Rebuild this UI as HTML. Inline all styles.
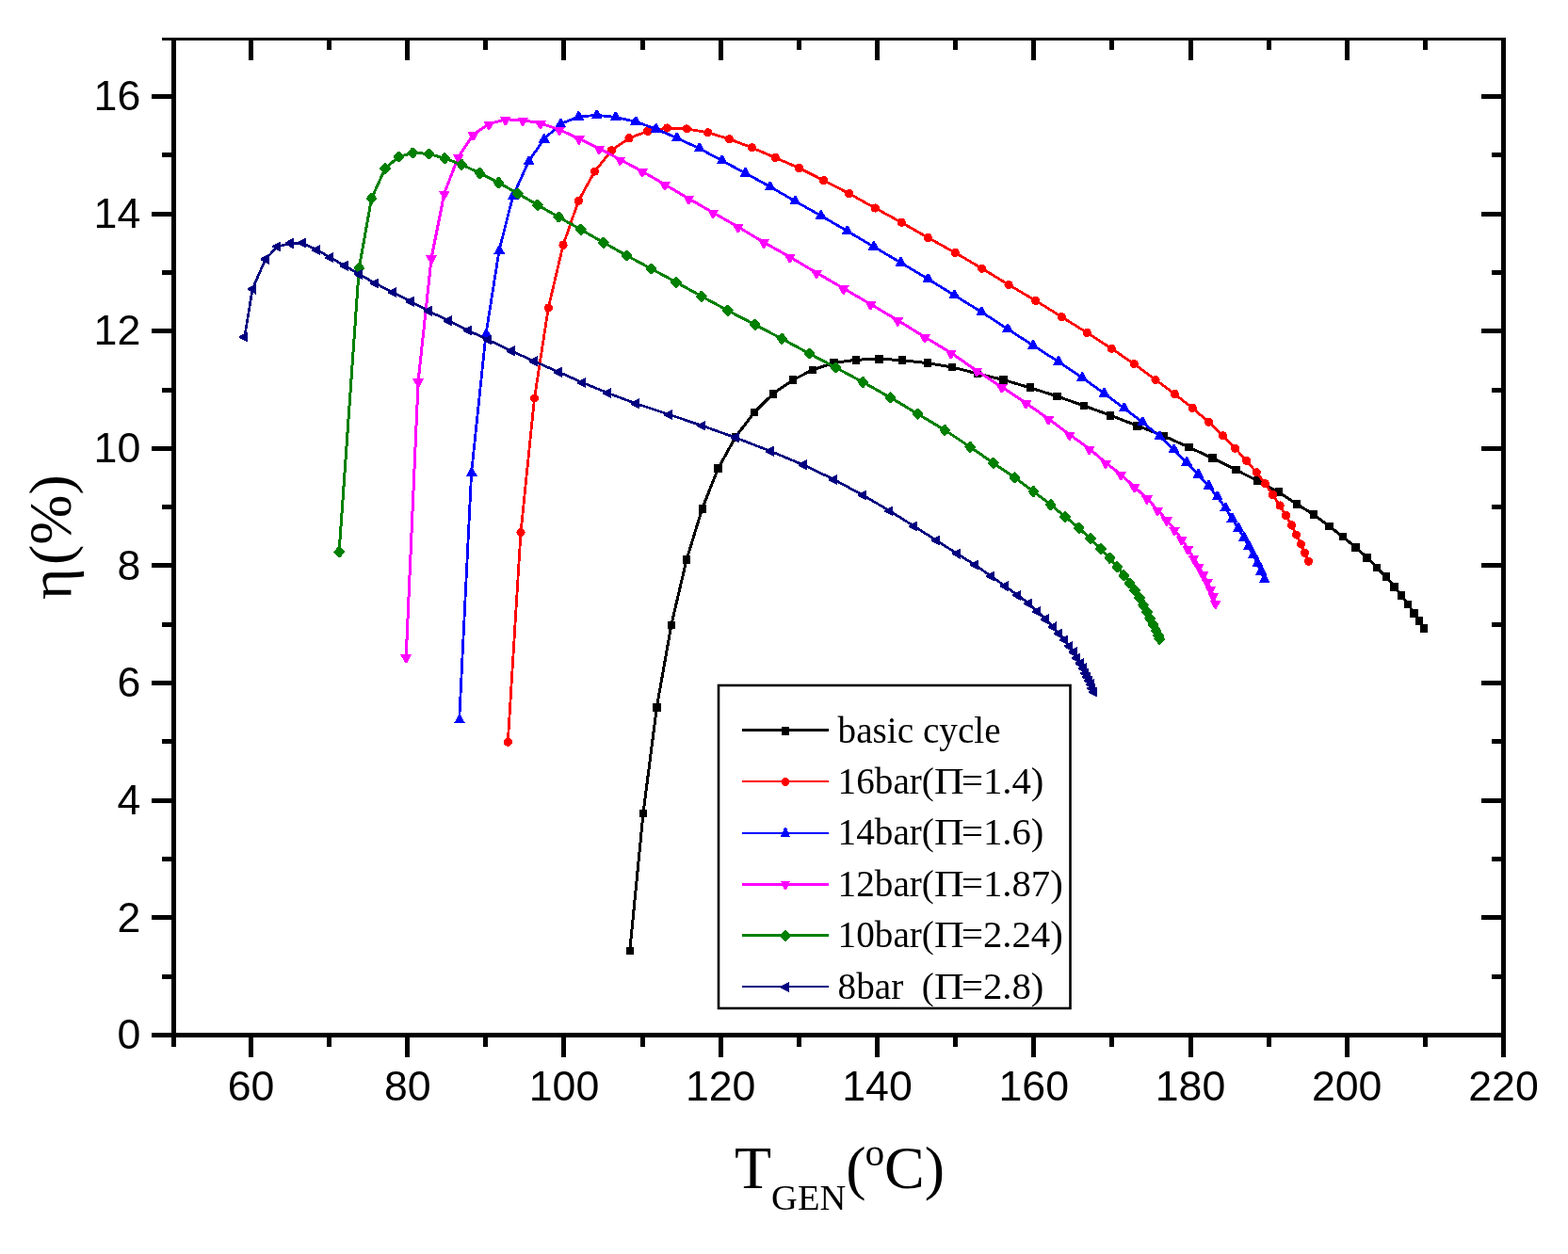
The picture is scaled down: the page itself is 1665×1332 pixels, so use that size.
<!DOCTYPE html>
<html lang="en">
<head>
<meta charset="utf-8">
<title>Efficiency versus generator temperature</title>
<style>
html,body{margin:0;padding:0;background:#ffffff;}
body{width:1665px;height:1332px;overflow:hidden;}
svg{display:block;}
.tick{font-family:"Liberation Sans",sans-serif;font-size:44.7px;fill:#000;}
.ttl{font-family:"Liberation Serif",serif;font-size:64px;fill:#000;}
.leg{font-family:"Liberation Serif",serif;font-size:39.2px;fill:#000;}
</style>
</head>
<body>
<svg width="1665" height="1332" viewBox="0 0 1665 1332">
<rect x="0" y="0" width="1665" height="1332" fill="#ffffff"/>

<g fill="#000000" shape-rendering="crispEdges">
<rect x="172" y="40" width="1427" height="3"/>
<rect x="161" y="1097" width="1438" height="5"/>
<rect x="182" y="40" width="5" height="1072"/>
<rect x="1594" y="40" width="5" height="1083"/>
<rect x="264" y="1102" width="5" height="21"/>
<rect x="264" y="43" width="5" height="21"/>
<rect x="347" y="1102" width="5" height="10"/>
<rect x="347" y="43" width="5" height="10"/>
<rect x="430" y="1102" width="5" height="21"/>
<rect x="430" y="43" width="5" height="21"/>
<rect x="513" y="1102" width="5" height="10"/>
<rect x="513" y="43" width="5" height="10"/>
<rect x="596" y="1102" width="5" height="21"/>
<rect x="596" y="43" width="5" height="21"/>
<rect x="680" y="1102" width="5" height="10"/>
<rect x="680" y="43" width="5" height="10"/>
<rect x="763" y="1102" width="5" height="21"/>
<rect x="763" y="43" width="5" height="21"/>
<rect x="846" y="1102" width="5" height="10"/>
<rect x="846" y="43" width="5" height="10"/>
<rect x="929" y="1102" width="5" height="21"/>
<rect x="929" y="43" width="5" height="21"/>
<rect x="1012" y="1102" width="5" height="10"/>
<rect x="1012" y="43" width="5" height="10"/>
<rect x="1095" y="1102" width="5" height="21"/>
<rect x="1095" y="43" width="5" height="21"/>
<rect x="1178" y="1102" width="5" height="10"/>
<rect x="1178" y="43" width="5" height="10"/>
<rect x="1262" y="1102" width="5" height="21"/>
<rect x="1262" y="43" width="5" height="21"/>
<rect x="1345" y="1102" width="5" height="10"/>
<rect x="1345" y="43" width="5" height="10"/>
<rect x="1428" y="1102" width="5" height="21"/>
<rect x="1428" y="43" width="5" height="21"/>
<rect x="1511" y="1102" width="5" height="10"/>
<rect x="1511" y="43" width="5" height="10"/>
<rect x="172" y="1035" width="10" height="5"/>
<rect x="1584" y="1035" width="10" height="5"/>
<rect x="161" y="972" width="21" height="5"/>
<rect x="1573" y="972" width="21" height="5"/>
<rect x="172" y="910" width="10" height="5"/>
<rect x="1584" y="910" width="10" height="5"/>
<rect x="161" y="848" width="21" height="5"/>
<rect x="1573" y="848" width="21" height="5"/>
<rect x="172" y="785" width="10" height="5"/>
<rect x="1584" y="785" width="10" height="5"/>
<rect x="161" y="723" width="21" height="5"/>
<rect x="1573" y="723" width="21" height="5"/>
<rect x="172" y="661" width="10" height="5"/>
<rect x="1584" y="661" width="10" height="5"/>
<rect x="161" y="598" width="21" height="5"/>
<rect x="1573" y="598" width="21" height="5"/>
<rect x="172" y="536" width="10" height="5"/>
<rect x="1584" y="536" width="10" height="5"/>
<rect x="161" y="474" width="21" height="5"/>
<rect x="1573" y="474" width="21" height="5"/>
<rect x="172" y="412" width="10" height="5"/>
<rect x="1584" y="412" width="10" height="5"/>
<rect x="161" y="349" width="21" height="5"/>
<rect x="1573" y="349" width="21" height="5"/>
<rect x="172" y="287" width="10" height="5"/>
<rect x="1584" y="287" width="10" height="5"/>
<rect x="161" y="225" width="21" height="5"/>
<rect x="1573" y="225" width="21" height="5"/>
<rect x="172" y="162" width="10" height="5"/>
<rect x="1584" y="162" width="10" height="5"/>
<rect x="161" y="100" width="21" height="5"/>
<rect x="1573" y="100" width="21" height="5"/>
</g>
<g class="tick" text-anchor="middle">
<text x="266.5" y="1169">60</text>
<text x="432.8" y="1169">80</text>
<text x="599" y="1169">100</text>
<text x="765.2" y="1169">120</text>
<text x="931.5" y="1169">140</text>
<text x="1097.8" y="1169">160</text>
<text x="1264" y="1169">180</text>
<text x="1430.2" y="1169">200</text>
<text x="1596.5" y="1169">220</text>
</g>
<g class="tick" text-anchor="end">
<text x="149.3" y="1114.2">0</text>
<text x="149.3" y="989.6">2</text>
<text x="149.3" y="865">4</text>
<text x="149.3" y="740.3">6</text>
<text x="149.3" y="615.7">8</text>
<text x="149.3" y="491.1">10</text>
<text x="149.3" y="366.4">12</text>
<text x="149.3" y="241.8">14</text>
<text x="149.3" y="117.2">16</text>
</g>
<text class="ttl" x="780" y="1262">T<tspan font-size="38.5px" dy="23">GEN</tspan><tspan dy="-23">(</tspan><tspan font-size="41.5px" dy="-24.5" dx="-1">o</tspan><tspan dy="24.5" dx="-0.3">C)</tspan></text>
<text class="ttl" transform="translate(74.6 637) rotate(-90)" x="0" y="0">η<tspan dx="3.5">(%)</tspan></text>
<g fill="#000000" stroke="none" shape-rendering="crispEdges">
<path d="M668.8 1010 L683 864 L697.4 751.1 L712.8 664 L729 594.7 L745.7 540.1 L762.5 497.8 L781 464.2 L801 438 L821.1 418.1 L841.8 403.7 L862.9 392.9 L885.5 385.4 L908.9 382.3 L933.3 381.1 L958 382.7 L984.7 385.6 L1011 390 L1038 396.9 L1065.3 403.4 L1093.7 411.8 L1122.5 420.9 L1150.9 431 L1179 441.1 L1207.3 452.1 L1235.4 462.9 L1262.3 475 L1287.6 486.7 L1312.3 499 L1335.4 510.8 L1357.7 522.8 L1377 535.3 L1395.1 546.8 L1411.5 559 L1425.8 570 L1439.6 581.5 L1451.4 592.1 L1462.1 603 L1471.8 612.8 L1480.6 623.1 L1488.1 632.4 L1495.2 641.9 L1501.5 651.2 L1507.2 659.4 L1512.1 667.7" fill="none" stroke="#000000" stroke-width="3.0" stroke-linejoin="round"/>
<rect x="664.6" y="1005.6" width="8.4" height="8.8"/><rect x="678.8" y="859.6" width="8.4" height="8.8"/><rect x="693.2" y="746.7" width="8.4" height="8.8"/><rect x="708.6" y="659.6" width="8.4" height="8.8"/><rect x="724.8" y="590.3" width="8.4" height="8.8"/><rect x="741.5" y="535.7" width="8.4" height="8.8"/><rect x="758.3" y="493.4" width="8.4" height="8.8"/><rect x="776.8" y="459.8" width="8.4" height="8.8"/><rect x="796.8" y="433.6" width="8.4" height="8.8"/><rect x="816.9" y="413.7" width="8.4" height="8.8"/><rect x="837.6" y="399.3" width="8.4" height="8.8"/><rect x="858.7" y="388.5" width="8.4" height="8.8"/><rect x="881.3" y="381" width="8.4" height="8.8"/><rect x="904.7" y="377.9" width="8.4" height="8.8"/><rect x="929.1" y="376.7" width="8.4" height="8.8"/><rect x="953.8" y="378.3" width="8.4" height="8.8"/><rect x="980.5" y="381.2" width="8.4" height="8.8"/><rect x="1006.8" y="385.6" width="8.4" height="8.8"/><rect x="1033.8" y="392.5" width="8.4" height="8.8"/><rect x="1061.1" y="399" width="8.4" height="8.8"/><rect x="1089.5" y="407.4" width="8.4" height="8.8"/><rect x="1118.3" y="416.5" width="8.4" height="8.8"/><rect x="1146.7" y="426.6" width="8.4" height="8.8"/><rect x="1174.8" y="436.7" width="8.4" height="8.8"/><rect x="1203.1" y="447.7" width="8.4" height="8.8"/><rect x="1231.2" y="458.5" width="8.4" height="8.8"/><rect x="1258.1" y="470.6" width="8.4" height="8.8"/><rect x="1283.4" y="482.3" width="8.4" height="8.8"/><rect x="1308.1" y="494.6" width="8.4" height="8.8"/><rect x="1331.2" y="506.4" width="8.4" height="8.8"/><rect x="1353.5" y="518.4" width="8.4" height="8.8"/><rect x="1372.8" y="530.9" width="8.4" height="8.8"/><rect x="1390.9" y="542.4" width="8.4" height="8.8"/><rect x="1407.3" y="554.6" width="8.4" height="8.8"/><rect x="1421.6" y="565.6" width="8.4" height="8.8"/><rect x="1435.4" y="577.1" width="8.4" height="8.8"/><rect x="1447.2" y="587.7" width="8.4" height="8.8"/><rect x="1457.9" y="598.6" width="8.4" height="8.8"/><rect x="1467.6" y="608.4" width="8.4" height="8.8"/><rect x="1476.4" y="618.7" width="8.4" height="8.8"/><rect x="1483.9" y="628" width="8.4" height="8.8"/><rect x="1491" y="637.5" width="8.4" height="8.8"/><rect x="1497.3" y="646.8" width="8.4" height="8.8"/><rect x="1503" y="655" width="8.4" height="8.8"/><rect x="1507.9" y="663.3" width="8.4" height="8.8"/>
</g>
<g fill="#ff0000" stroke="none" shape-rendering="crispEdges">
<path d="M539.3 788.2 L553 565.5 L567.5 423 L582.3 327 L598 260.2 L614.3 213.3 L631.5 182.1 L649.3 159.8 L668 146.8 L687.7 139.3 L708.4 136 L729.3 136.9 L751.7 140.8 L774.5 147.7 L798.5 156.9 L823.2 167.4 L848.5 178.5 L874.7 191.7 L901.6 205.6 L929.2 221 L957.1 236.2 L985.4 252.5 L1014.2 268.4 L1042.8 285.2 L1071.1 302.5 L1099.7 319.3 L1127.3 336.6 L1154.2 353.4 L1180.2 370.2 L1204.2 386.5 L1227 403.4 L1247.4 418.5 L1266.2 433.4 L1283.5 448.3 L1298.4 462.7 L1311.6 476.2 L1323.6 489.4 L1334.2 501.8 L1343.5 513.8 L1351.5 525.5 L1359.1 537 L1365.5 547.5 L1371.5 557.9 L1376.6 568.1 L1381.5 578 L1385.6 587.2 L1389.5 596.3" fill="none" stroke="#ff0000" stroke-width="2.8" stroke-linejoin="round"/>
<circle cx="539.3" cy="788.2" r="4.6"/><circle cx="553" cy="565.5" r="4.6"/><circle cx="567.5" cy="423" r="4.6"/><circle cx="582.3" cy="327" r="4.6"/><circle cx="598" cy="260.2" r="4.6"/><circle cx="614.3" cy="213.3" r="4.6"/><circle cx="631.5" cy="182.1" r="4.6"/><circle cx="649.3" cy="159.8" r="4.6"/><circle cx="668" cy="146.8" r="4.6"/><circle cx="687.7" cy="139.3" r="4.6"/><circle cx="708.4" cy="136" r="4.6"/><circle cx="729.3" cy="136.9" r="4.6"/><circle cx="751.7" cy="140.8" r="4.6"/><circle cx="774.5" cy="147.7" r="4.6"/><circle cx="798.5" cy="156.9" r="4.6"/><circle cx="823.2" cy="167.4" r="4.6"/><circle cx="848.5" cy="178.5" r="4.6"/><circle cx="874.7" cy="191.7" r="4.6"/><circle cx="901.6" cy="205.6" r="4.6"/><circle cx="929.2" cy="221" r="4.6"/><circle cx="957.1" cy="236.2" r="4.6"/><circle cx="985.4" cy="252.5" r="4.6"/><circle cx="1014.2" cy="268.4" r="4.6"/><circle cx="1042.8" cy="285.2" r="4.6"/><circle cx="1071.1" cy="302.5" r="4.6"/><circle cx="1099.7" cy="319.3" r="4.6"/><circle cx="1127.3" cy="336.6" r="4.6"/><circle cx="1154.2" cy="353.4" r="4.6"/><circle cx="1180.2" cy="370.2" r="4.6"/><circle cx="1204.2" cy="386.5" r="4.6"/><circle cx="1227" cy="403.4" r="4.6"/><circle cx="1247.4" cy="418.5" r="4.6"/><circle cx="1266.2" cy="433.4" r="4.6"/><circle cx="1283.5" cy="448.3" r="4.6"/><circle cx="1298.4" cy="462.7" r="4.6"/><circle cx="1311.6" cy="476.2" r="4.6"/><circle cx="1323.6" cy="489.4" r="4.6"/><circle cx="1334.2" cy="501.8" r="4.6"/><circle cx="1343.5" cy="513.8" r="4.6"/><circle cx="1351.5" cy="525.5" r="4.6"/><circle cx="1359.1" cy="537" r="4.6"/><circle cx="1365.5" cy="547.5" r="4.6"/><circle cx="1371.5" cy="557.9" r="4.6"/><circle cx="1376.6" cy="568.1" r="4.6"/><circle cx="1381.5" cy="578" r="4.6"/><circle cx="1385.6" cy="587.2" r="4.6"/><circle cx="1389.5" cy="596.3" r="4.6"/>
</g>
<g fill="#0000ff" stroke="none" shape-rendering="crispEdges">
<path d="M487.7 764.7 L500.6 502.3 L516 355 L530 266.2 L544.6 208.5 L561.4 171.3 L577.5 148 L595.1 131.7 L614.1 124 L633.5 122.4 L653.6 124.4 L674.8 129.2 L696.4 136.9 L718.5 146.5 L742.5 157.6 L766.5 170.6 L791.3 183.8 L817.5 198.2 L844.1 213.6 L871.5 229 L899.4 245.3 L927.5 261.9 L956.3 278.9 L985.2 296.2 L1013.2 313.5 L1042 331.3 L1069.7 349.3 L1096.8 366.8 L1123.7 384.1 L1148.9 401 L1172.3 417.8 L1193.4 433.4 L1213.1 448.5 L1231.1 463.4 L1246.2 477.4 L1259.9 491 L1272.2 504 L1283.2 516 L1292.4 527.5 L1301 539.2 L1308.2 550.8 L1314.7 561 L1320.7 570.8 L1325.8 580.2 L1330.6 589.4 L1335.1 598.3 L1339 606.9 L1342.4 615.4" fill="none" stroke="#0000ff" stroke-width="2.8" stroke-linejoin="round"/>
<path d="M487 759h2l5 9.4h-12z"/><path d="M499.9 496.6h2l5 9.4h-12z"/><path d="M515.3 349.3h2l5 9.4h-12z"/><path d="M529.3 260.5h2l5 9.4h-12z"/><path d="M543.9 202.8h2l5 9.4h-12z"/><path d="M560.7 165.6h2l5 9.4h-12z"/><path d="M576.8 142.3h2l5 9.4h-12z"/><path d="M594.4 126h2l5 9.4h-12z"/><path d="M613.4 118.3h2l5 9.4h-12z"/><path d="M632.8 116.7h2l5 9.4h-12z"/><path d="M652.9 118.7h2l5 9.4h-12z"/><path d="M674.1 123.5h2l5 9.4h-12z"/><path d="M695.7 131.2h2l5 9.4h-12z"/><path d="M717.8 140.8h2l5 9.4h-12z"/><path d="M741.8 151.9h2l5 9.4h-12z"/><path d="M765.8 164.9h2l5 9.4h-12z"/><path d="M790.6 178.1h2l5 9.4h-12z"/><path d="M816.8 192.5h2l5 9.4h-12z"/><path d="M843.4 207.9h2l5 9.4h-12z"/><path d="M870.8 223.3h2l5 9.4h-12z"/><path d="M898.7 239.6h2l5 9.4h-12z"/><path d="M926.8 256.2h2l5 9.4h-12z"/><path d="M955.6 273.2h2l5 9.4h-12z"/><path d="M984.5 290.5h2l5 9.4h-12z"/><path d="M1012.5 307.8h2l5 9.4h-12z"/><path d="M1041.3 325.6h2l5 9.4h-12z"/><path d="M1069 343.6h2l5 9.4h-12z"/><path d="M1096.1 361.1h2l5 9.4h-12z"/><path d="M1123 378.4h2l5 9.4h-12z"/><path d="M1148.2 395.3h2l5 9.4h-12z"/><path d="M1171.6 412.1h2l5 9.4h-12z"/><path d="M1192.7 427.7h2l5 9.4h-12z"/><path d="M1212.4 442.8h2l5 9.4h-12z"/><path d="M1230.4 457.7h2l5 9.4h-12z"/><path d="M1245.5 471.7h2l5 9.4h-12z"/><path d="M1259.2 485.3h2l5 9.4h-12z"/><path d="M1271.5 498.3h2l5 9.4h-12z"/><path d="M1282.5 510.3h2l5 9.4h-12z"/><path d="M1291.7 521.8h2l5 9.4h-12z"/><path d="M1300.3 533.5h2l5 9.4h-12z"/><path d="M1307.5 545.1h2l5 9.4h-12z"/><path d="M1314 555.3h2l5 9.4h-12z"/><path d="M1320 565.1h2l5 9.4h-12z"/><path d="M1325.1 574.5h2l5 9.4h-12z"/><path d="M1329.9 583.7h2l5 9.4h-12z"/><path d="M1334.4 592.6h2l5 9.4h-12z"/><path d="M1338.3 601.2h2l5 9.4h-12z"/><path d="M1341.7 609.7h2l5 9.4h-12z"/>
</g>
<g fill="#ff00ff" stroke="none" shape-rendering="crispEdges">
<path d="M431.2 698.1 L444.1 405 L458.1 274.1 L471.8 205.4 L486.7 166.5 L502.6 142.9 L519.2 131.7 L536.7 126.8 L555.2 127.6 L573.9 130.9 L593.9 137.7 L614.8 147.3 L636.2 157.8 L658.4 169.4 L682 182.1 L706 196 L731.2 210.9 L757.2 225.8 L783.6 241 L811 257.3 L838.6 272.9 L867 289.7 L895.6 306.3 L924.4 323.1 L953.2 340.2 L982 358 L1009.8 374.8 L1037.2 393.8 L1063.7 411.1 L1089.4 428.1 L1113.4 444.9 L1135.7 461.5 L1156.6 476.6 L1174.2 491.5 L1190.2 504 L1204.6 517.1 L1217.9 529.3 L1229.2 541.7 L1238.8 552.3 L1247 562.5 L1254.7 572.8 L1261.4 582.9 L1267.4 592.5 L1272.9 601.6 L1277.5 610 L1281.8 618.2 L1285.4 625.6 L1288.3 632.9 L1290.7 640.5" fill="none" stroke="#ff00ff" stroke-width="3.0" stroke-linejoin="round"/>
<path d="M430.2 704.4h2l5 -9.2h-12z"/><path d="M443.1 411.3h2l5 -9.2h-12z"/><path d="M457.1 280.4h2l5 -9.2h-12z"/><path d="M470.8 211.7h2l5 -9.2h-12z"/><path d="M485.7 172.8h2l5 -9.2h-12z"/><path d="M501.6 149.2h2l5 -9.2h-12z"/><path d="M518.2 138h2l5 -9.2h-12z"/><path d="M535.7 133.1h2l5 -9.2h-12z"/><path d="M554.2 133.9h2l5 -9.2h-12z"/><path d="M572.9 137.2h2l5 -9.2h-12z"/><path d="M592.9 144h2l5 -9.2h-12z"/><path d="M613.8 153.6h2l5 -9.2h-12z"/><path d="M635.2 164.1h2l5 -9.2h-12z"/><path d="M657.4 175.7h2l5 -9.2h-12z"/><path d="M681 188.4h2l5 -9.2h-12z"/><path d="M705 202.3h2l5 -9.2h-12z"/><path d="M730.2 217.2h2l5 -9.2h-12z"/><path d="M756.2 232.1h2l5 -9.2h-12z"/><path d="M782.6 247.3h2l5 -9.2h-12z"/><path d="M810 263.6h2l5 -9.2h-12z"/><path d="M837.6 279.2h2l5 -9.2h-12z"/><path d="M866 296h2l5 -9.2h-12z"/><path d="M894.6 312.6h2l5 -9.2h-12z"/><path d="M923.4 329.4h2l5 -9.2h-12z"/><path d="M952.2 346.5h2l5 -9.2h-12z"/><path d="M981 364.3h2l5 -9.2h-12z"/><path d="M1008.8 381.1h2l5 -9.2h-12z"/><path d="M1036.2 400.1h2l5 -9.2h-12z"/><path d="M1062.7 417.4h2l5 -9.2h-12z"/><path d="M1088.4 434.4h2l5 -9.2h-12z"/><path d="M1112.4 451.2h2l5 -9.2h-12z"/><path d="M1134.7 467.8h2l5 -9.2h-12z"/><path d="M1155.6 482.9h2l5 -9.2h-12z"/><path d="M1173.2 497.8h2l5 -9.2h-12z"/><path d="M1189.2 510.3h2l5 -9.2h-12z"/><path d="M1203.6 523.4h2l5 -9.2h-12z"/><path d="M1216.9 535.6h2l5 -9.2h-12z"/><path d="M1228.2 548h2l5 -9.2h-12z"/><path d="M1237.8 558.6h2l5 -9.2h-12z"/><path d="M1246 568.8h2l5 -9.2h-12z"/><path d="M1253.7 579.1h2l5 -9.2h-12z"/><path d="M1260.4 589.2h2l5 -9.2h-12z"/><path d="M1266.4 598.8h2l5 -9.2h-12z"/><path d="M1271.9 607.9h2l5 -9.2h-12z"/><path d="M1276.5 616.3h2l5 -9.2h-12z"/><path d="M1280.8 624.5h2l5 -9.2h-12z"/><path d="M1284.4 631.9h2l5 -9.2h-12z"/><path d="M1287.3 639.2h2l5 -9.2h-12z"/><path d="M1289.7 646.8h2l5 -9.2h-12z"/>
</g>
<g fill="#008000" stroke="none" shape-rendering="crispEdges">
<path d="M360.1 586.4 L381.3 284.7 L394.5 210.9 L408.9 179 L423.3 166.5 L438.2 162.4 L455.5 163.4 L472.3 168.2 L490.3 174.9 L509.5 184 L529.5 194.1 L549.9 205.6 L570.8 217.7 L593.2 230.6 L616.7 243.8 L640.9 257.6 L665.6 271.5 L691.4 285.4 L718 299.8 L744.9 314.7 L772.8 329.8 L801.6 344.9 L830.4 359.9 L859.3 375.5 L887.5 390.5 L916.4 406 L945.6 422.3 L974.4 439.6 L1003.3 456.9 L1030.1 474.7 L1054.7 491.8 L1077.5 507.3 L1097.4 522 L1115.6 536.1 L1131 548.8 L1145.6 560.9 L1158 572.3 L1169 583 L1178.4 592.7 L1186.3 602.3 L1193.5 611.2 L1199.5 619.4 L1205 627.3 L1209.8 635 L1214 642.6 L1217.9 650 L1221.3 657 L1224.6 663.6 L1227.6 670 L1229.8 675 L1231.2 678.6" fill="none" stroke="#008000" stroke-width="3.0" stroke-linejoin="round"/>
<path d="M359.3 580.5h1.6l5 5.4v1l-5 5.4h-1.6l-5 -5.4v-1z"/><path d="M380.5 278.8h1.6l5 5.4v1l-5 5.4h-1.6l-5 -5.4v-1z"/><path d="M393.7 205h1.6l5 5.4v1l-5 5.4h-1.6l-5 -5.4v-1z"/><path d="M408.1 173.1h1.6l5 5.4v1l-5 5.4h-1.6l-5 -5.4v-1z"/><path d="M422.5 160.6h1.6l5 5.4v1l-5 5.4h-1.6l-5 -5.4v-1z"/><path d="M437.4 156.5h1.6l5 5.4v1l-5 5.4h-1.6l-5 -5.4v-1z"/><path d="M454.7 157.5h1.6l5 5.4v1l-5 5.4h-1.6l-5 -5.4v-1z"/><path d="M471.5 162.3h1.6l5 5.4v1l-5 5.4h-1.6l-5 -5.4v-1z"/><path d="M489.5 169h1.6l5 5.4v1l-5 5.4h-1.6l-5 -5.4v-1z"/><path d="M508.7 178.1h1.6l5 5.4v1l-5 5.4h-1.6l-5 -5.4v-1z"/><path d="M528.7 188.2h1.6l5 5.4v1l-5 5.4h-1.6l-5 -5.4v-1z"/><path d="M549.1 199.7h1.6l5 5.4v1l-5 5.4h-1.6l-5 -5.4v-1z"/><path d="M570 211.8h1.6l5 5.4v1l-5 5.4h-1.6l-5 -5.4v-1z"/><path d="M592.4 224.7h1.6l5 5.4v1l-5 5.4h-1.6l-5 -5.4v-1z"/><path d="M615.9 237.9h1.6l5 5.4v1l-5 5.4h-1.6l-5 -5.4v-1z"/><path d="M640.1 251.7h1.6l5 5.4v1l-5 5.4h-1.6l-5 -5.4v-1z"/><path d="M664.8 265.6h1.6l5 5.4v1l-5 5.4h-1.6l-5 -5.4v-1z"/><path d="M690.6 279.5h1.6l5 5.4v1l-5 5.4h-1.6l-5 -5.4v-1z"/><path d="M717.2 293.9h1.6l5 5.4v1l-5 5.4h-1.6l-5 -5.4v-1z"/><path d="M744.1 308.8h1.6l5 5.4v1l-5 5.4h-1.6l-5 -5.4v-1z"/><path d="M772 323.9h1.6l5 5.4v1l-5 5.4h-1.6l-5 -5.4v-1z"/><path d="M800.8 339h1.6l5 5.4v1l-5 5.4h-1.6l-5 -5.4v-1z"/><path d="M829.6 354h1.6l5 5.4v1l-5 5.4h-1.6l-5 -5.4v-1z"/><path d="M858.5 369.6h1.6l5 5.4v1l-5 5.4h-1.6l-5 -5.4v-1z"/><path d="M886.7 384.6h1.6l5 5.4v1l-5 5.4h-1.6l-5 -5.4v-1z"/><path d="M915.6 400.1h1.6l5 5.4v1l-5 5.4h-1.6l-5 -5.4v-1z"/><path d="M944.8 416.4h1.6l5 5.4v1l-5 5.4h-1.6l-5 -5.4v-1z"/><path d="M973.6 433.7h1.6l5 5.4v1l-5 5.4h-1.6l-5 -5.4v-1z"/><path d="M1002.5 451h1.6l5 5.4v1l-5 5.4h-1.6l-5 -5.4v-1z"/><path d="M1029.3 468.8h1.6l5 5.4v1l-5 5.4h-1.6l-5 -5.4v-1z"/><path d="M1053.9 485.9h1.6l5 5.4v1l-5 5.4h-1.6l-5 -5.4v-1z"/><path d="M1076.7 501.4h1.6l5 5.4v1l-5 5.4h-1.6l-5 -5.4v-1z"/><path d="M1096.6 516.1h1.6l5 5.4v1l-5 5.4h-1.6l-5 -5.4v-1z"/><path d="M1114.8 530.2h1.6l5 5.4v1l-5 5.4h-1.6l-5 -5.4v-1z"/><path d="M1130.2 542.9h1.6l5 5.4v1l-5 5.4h-1.6l-5 -5.4v-1z"/><path d="M1144.8 555h1.6l5 5.4v1l-5 5.4h-1.6l-5 -5.4v-1z"/><path d="M1157.2 566.4h1.6l5 5.4v1l-5 5.4h-1.6l-5 -5.4v-1z"/><path d="M1168.2 577.1h1.6l5 5.4v1l-5 5.4h-1.6l-5 -5.4v-1z"/><path d="M1177.6 586.8h1.6l5 5.4v1l-5 5.4h-1.6l-5 -5.4v-1z"/><path d="M1185.5 596.4h1.6l5 5.4v1l-5 5.4h-1.6l-5 -5.4v-1z"/><path d="M1192.7 605.3h1.6l5 5.4v1l-5 5.4h-1.6l-5 -5.4v-1z"/><path d="M1198.7 613.5h1.6l5 5.4v1l-5 5.4h-1.6l-5 -5.4v-1z"/><path d="M1204.2 621.4h1.6l5 5.4v1l-5 5.4h-1.6l-5 -5.4v-1z"/><path d="M1209 629.1h1.6l5 5.4v1l-5 5.4h-1.6l-5 -5.4v-1z"/><path d="M1213.2 636.7h1.6l5 5.4v1l-5 5.4h-1.6l-5 -5.4v-1z"/><path d="M1217.1 644.1h1.6l5 5.4v1l-5 5.4h-1.6l-5 -5.4v-1z"/><path d="M1220.5 651.1h1.6l5 5.4v1l-5 5.4h-1.6l-5 -5.4v-1z"/><path d="M1223.8 657.7h1.6l5 5.4v1l-5 5.4h-1.6l-5 -5.4v-1z"/><path d="M1226.8 664.1h1.6l5 5.4v1l-5 5.4h-1.6l-5 -5.4v-1z"/><path d="M1229 669.1h1.6l5 5.4v1l-5 5.4h-1.6l-5 -5.4v-1z"/><path d="M1230.4 672.7h1.6l5 5.4v1l-5 5.4h-1.6l-5 -5.4v-1z"/>
</g>
<g fill="#000080" stroke="none" shape-rendering="crispEdges">
<path d="M259.7 358 L268.1 307 L282 275.1 L294.8 261.9 L308 258.5 L321.2 258 L336.6 265.5 L350.8 273.6 L366.1 282.3 L381.7 291.4 L398.6 301 L417.2 310.5 L436 320.3 L455 330.4 L476.3 340.7 L497.2 351 L518.6 361.2 L542.9 372.7 L567.2 383.8 L593.2 395.2 L618.6 406.4 L645.5 417.5 L675.3 428.7 L710.6 440.4 L745.7 452.2 L781 464.9 L818.3 479.3 L853.1 493.8 L885.5 509.3 L916.5 526.1 L944.8 542.7 L970.6 559 L994.6 574.2 L1016.2 588.1 L1035.4 600.1 L1052.5 612.1 L1067.4 622.7 L1080.8 632.4 L1092.3 641 L1101.8 649.6 L1110.4 657.8 L1118.1 666 L1124.7 673.1 L1130.7 679.8 L1135.7 686.4 L1140 692.9 L1143.7 698.9 L1147 704.6 L1150 710 L1152.6 715.2 L1154.6 719 L1156.4 722.9 L1158.1 727 L1159.8 731.1 L1161.2 735" fill="none" stroke="#000080" stroke-width="2.7" stroke-linejoin="round"/>
<path d="M254.3 357v2l9 4.6v-11.2z"/><path d="M262.7 306v2l9 4.6v-11.2z"/><path d="M276.6 274.1v2l9 4.6v-11.2z"/><path d="M289.4 260.9v2l9 4.6v-11.2z"/><path d="M302.6 257.5v2l9 4.6v-11.2z"/><path d="M315.8 257v2l9 4.6v-11.2z"/><path d="M331.2 264.5v2l9 4.6v-11.2z"/><path d="M345.4 272.6v2l9 4.6v-11.2z"/><path d="M360.7 281.3v2l9 4.6v-11.2z"/><path d="M376.3 290.4v2l9 4.6v-11.2z"/><path d="M393.2 300v2l9 4.6v-11.2z"/><path d="M411.8 309.5v2l9 4.6v-11.2z"/><path d="M430.6 319.3v2l9 4.6v-11.2z"/><path d="M449.6 329.4v2l9 4.6v-11.2z"/><path d="M470.9 339.7v2l9 4.6v-11.2z"/><path d="M491.8 350v2l9 4.6v-11.2z"/><path d="M513.2 360.2v2l9 4.6v-11.2z"/><path d="M537.5 371.7v2l9 4.6v-11.2z"/><path d="M561.8 382.8v2l9 4.6v-11.2z"/><path d="M587.8 394.2v2l9 4.6v-11.2z"/><path d="M613.2 405.4v2l9 4.6v-11.2z"/><path d="M640.1 416.5v2l9 4.6v-11.2z"/><path d="M669.9 427.7v2l9 4.6v-11.2z"/><path d="M705.2 439.4v2l9 4.6v-11.2z"/><path d="M740.3 451.2v2l9 4.6v-11.2z"/><path d="M775.6 463.9v2l9 4.6v-11.2z"/><path d="M812.9 478.3v2l9 4.6v-11.2z"/><path d="M847.7 492.8v2l9 4.6v-11.2z"/><path d="M880.1 508.3v2l9 4.6v-11.2z"/><path d="M911.1 525.1v2l9 4.6v-11.2z"/><path d="M939.4 541.7v2l9 4.6v-11.2z"/><path d="M965.2 558v2l9 4.6v-11.2z"/><path d="M989.2 573.2v2l9 4.6v-11.2z"/><path d="M1010.8 587.1v2l9 4.6v-11.2z"/><path d="M1030 599.1v2l9 4.6v-11.2z"/><path d="M1047.1 611.1v2l9 4.6v-11.2z"/><path d="M1062 621.7v2l9 4.6v-11.2z"/><path d="M1075.4 631.4v2l9 4.6v-11.2z"/><path d="M1086.9 640v2l9 4.6v-11.2z"/><path d="M1096.4 648.6v2l9 4.6v-11.2z"/><path d="M1105 656.8v2l9 4.6v-11.2z"/><path d="M1112.7 665v2l9 4.6v-11.2z"/><path d="M1119.3 672.1v2l9 4.6v-11.2z"/><path d="M1125.3 678.8v2l9 4.6v-11.2z"/><path d="M1130.3 685.4v2l9 4.6v-11.2z"/><path d="M1134.6 691.9v2l9 4.6v-11.2z"/><path d="M1138.3 697.9v2l9 4.6v-11.2z"/><path d="M1141.6 703.6v2l9 4.6v-11.2z"/><path d="M1144.6 709v2l9 4.6v-11.2z"/><path d="M1147.2 714.2v2l9 4.6v-11.2z"/><path d="M1149.2 718v2l9 4.6v-11.2z"/><path d="M1151 721.9v2l9 4.6v-11.2z"/><path d="M1152.7 726v2l9 4.6v-11.2z"/><path d="M1154.4 730.1v2l9 4.6v-11.2z"/><path d="M1155.8 734v2l9 4.6v-11.2z"/>
</g>
<rect x="763" y="728" width="373.5" height="343" fill="#ffffff" stroke="#000000" stroke-width="2.6"/>
<g fill="#000000" shape-rendering="crispEdges">
<rect x="788" y="774" width="92" height="3"/>
<rect x="829.8" y="772.1" width="8.4" height="8.8"/>
</g>
<text class="leg" x="889.6" y="788.6">basic cycle</text>
<g fill="#ff0000" shape-rendering="crispEdges">
<rect x="788" y="829" width="92" height="2"/>
<circle cx="834" cy="830.5" r="4.6"/>
</g>
<text class="leg" x="889.6" y="843">16bar(</text>
<text class="leg" transform="translate(992 843) scale(1.12 1.03)" x="0" y="0">Π</text>
<text class="leg" transform="translate(1020.9 843) scale(1.04 1)" x="0" y="0">=1.4)</text>
<g fill="#0000ff" shape-rendering="crispEdges">
<rect x="788" y="884" width="92" height="2"/>
<path d="M833 879.1h2l4.1 9.8h-10.2z"/>
</g>
<text class="leg" x="889.6" y="897.4">14bar(</text>
<text class="leg" transform="translate(992 897.4) scale(1.12 1.03)" x="0" y="0">Π</text>
<text class="leg" transform="translate(1020.9 897.4) scale(1.04 1)" x="0" y="0">=1.6)</text>
<g fill="#ff00ff" shape-rendering="crispEdges">
<rect x="788" y="938" width="92" height="3"/>
<path d="M833 945.1h2l4.1 -9.2h-10.2z"/>
</g>
<text class="leg" x="889.6" y="951.8">12bar(</text>
<text class="leg" transform="translate(992 951.8) scale(1.12 1.03)" x="0" y="0">Π</text>
<text class="leg" transform="translate(1020.9 951.8) scale(1.04 1)" x="0" y="0">=1.87)</text>
<g fill="#008000" shape-rendering="crispEdges">
<rect x="788" y="992" width="92" height="3"/>
<path d="M833.2 988.1h1.6l5 5.4v1l-5 5.4h-1.6l-5 -5.4v-1z"/>
</g>
<text class="leg" x="889.6" y="1006.2">10bar(</text>
<text class="leg" transform="translate(992 1006.2) scale(1.12 1.03)" x="0" y="0">Π</text>
<text class="leg" transform="translate(1020.9 1006.2) scale(1.04 1)" x="0" y="0">=2.24)</text>
<g fill="#000080" shape-rendering="crispEdges">
<rect x="788" y="1047" width="92" height="2"/>
<path d="M829 1047.5v2l9 4.6v-11.2z"/>
</g>
<text class="leg" x="889.6" y="1060.6">8bar  (</text>
<text class="leg" transform="translate(992 1060.6) scale(1.12 1.03)" x="0" y="0">Π</text>
<text class="leg" transform="translate(1020.9 1060.6) scale(1.04 1)" x="0" y="0">=2.8)</text>
</svg>
</body>
</html>
